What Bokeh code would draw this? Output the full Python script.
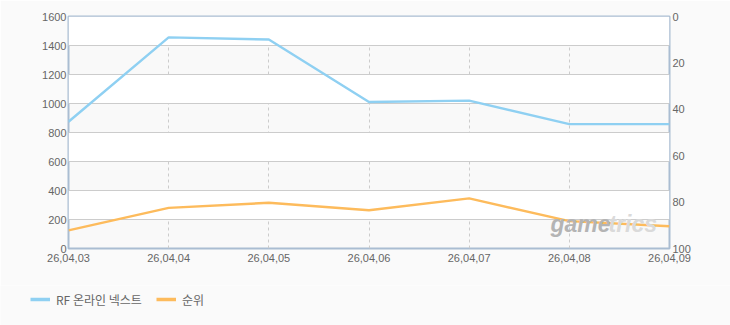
from bokeh.plotting import figure
from bokeh.layouts import column
from bokeh.models import Range1d, LinearAxis, Legend, LegendItem, Label, FixedTicker
from bokeh.embed import file_html
from bokeh.resources import INLINE

dates = ["26,04,03", "26,04,04", "26,04,05", "26,04,06", "26,04,07", "26,04,08", "26,04,09"]
usage = [874, 1456, 1441, 1010, 1020, 858, 858]
rank = [92.2, 82.5, 80.3, 83.5, 78.4, 88.2, 90.4]
series_names = ["RF 온라인 넥스트", "순위"]
series_colors = ["#8fd0f2", "#fdbb5c"]
left_ticks = [0, 200, 400, 600, 800, 1000, 1200, 1400, 1600]
right_ticks = [0, 20, 40, 60, 80, 100]

xs = list(range(len(dates)))
FONT = "Liberation Sans"
LBL = "#666666"
BG = "#fafafa"

p = figure(width=730, height=285, output_backend="svg", toolbar_location=None,
           x_range=Range1d(0, len(dates) - 1), y_range=Range1d(0, 1600),
           min_border_left=68, min_border_right=61, min_border_top=16, min_border_bottom=37)
p.extra_y_ranges = {"rank": Range1d(100, 0)}

p.background_fill_color = "#f9f9f9"
p.border_fill_color = BG
p.outline_line_color = "#aabdd2"
p.outline_line_width = 2

p.ygrid.ticker = FixedTicker(ticks=left_ticks)
p.ygrid.grid_line_color = "#cccccc"
p.ygrid.band_fill_color = "#ffffff"
p.ygrid.band_fill_alpha = 1
p.xgrid.ticker = FixedTicker(ticks=xs)
p.xgrid.grid_line_color = "#cccccc"
p.xgrid.grid_line_dash = "3 3"

def style(ax):
    ax.axis_line_color = None
    ax.major_tick_line_color = None
    ax.minor_tick_line_color = None
    ax.major_tick_out = 0
    ax.major_tick_in = 0
    ax.minor_tick_out = 0
    ax.major_label_text_font = FONT
    ax.major_label_text_font_size = "11px"
    ax.major_label_text_color = LBL

style(p.xaxis[0])
style(p.yaxis[0])
p.yaxis[0].ticker = FixedTicker(ticks=left_ticks)
p.yaxis[0].major_label_standoff = 2
p.xaxis[0].ticker = FixedTicker(ticks=xs)
p.xaxis[0].major_label_overrides = {i: d for i, d in enumerate(dates)}
p.xaxis[0].major_label_standoff = 5

rax = LinearAxis(y_range_name="rank", ticker=FixedTicker(ticks=right_ticks))
style(rax)
rax.major_label_standoff = 3
p.add_layout(rax, "right")

# watermark
p.add_layout(Label(x=482, y=12, x_units="screen", y_units="screen", text="game",
                   text_font=FONT, text_font_style="bold italic", text_font_size="23px",
                   text_color="#b4b4b4"))
p.add_layout(Label(x=540, y=12, x_units="screen", y_units="screen", text="trics",
                   text_font=FONT, text_font_style="bold italic", text_font_size="23px",
                   text_color="#dadada"))

p.line(xs, usage, line_color=series_colors[0], line_width=2.4)
p.line(xs, rank, y_range_name="rank", line_color=series_colors[1], line_width=2.4)

# legend strip (its own small figure; series drawn outside its view, only the keys show)
lg = figure(width=730, height=40, output_backend="svg", toolbar_location=None,
            x_range=Range1d(0, 1), y_range=Range1d(0, 1),
            x_axis_location=None, y_axis_location=None,
            min_border=0, min_border_left=0, min_border_right=0,
            min_border_top=0, min_border_bottom=0)
lg.grid.visible = False
lg.outline_line_color = None
lg.background_fill_color = BG
lg.border_fill_color = BG
k1 = lg.line(xs, usage, line_color=series_colors[0], line_width=3.5)
k2 = lg.line(xs, rank, line_color=series_colors[1], line_width=3.5)
legend = Legend(items=[LegendItem(label=series_names[0], renderers=[k1]),
                       LegendItem(label=series_names[1], renderers=[k2])],
                orientation="horizontal", location=(30, 16),
                background_fill_alpha=0, border_line_color=None,
                padding=0, margin=0, spacing=14, glyph_width=20, glyph_height=20,
                label_standoff=6, label_text_font="Noto Sans CJK KR",
                label_text_font_size="12px", label_text_color=LBL)
lg.add_layout(legend, "center")

open("out.html", "w").write(file_html(column(p, column(lg, spacing=0), spacing=0), INLINE))
